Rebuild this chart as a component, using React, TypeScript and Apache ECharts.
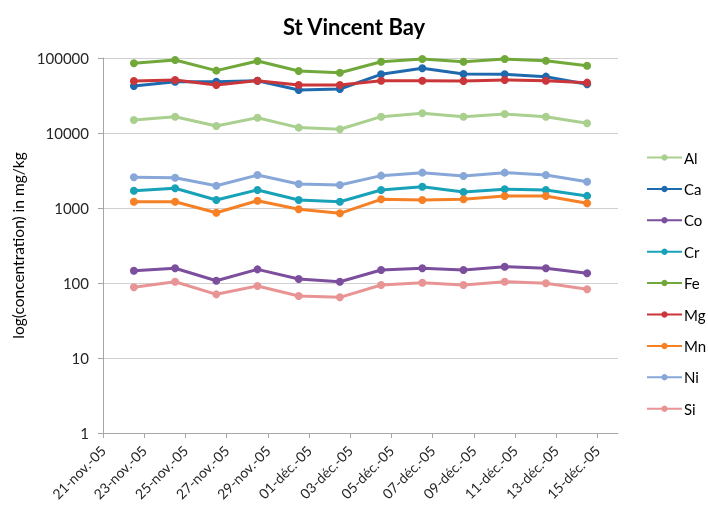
import React, { useEffect, useRef } from "react";
import * as echarts from "echarts";

const startDate = "2005-11-21";
const sampleDates = [
  "2005-11-22", "2005-11-24", "2005-11-26", "2005-11-28", "2005-11-30", "2005-12-02",
  "2005-12-04", "2005-12-06", "2005-12-08", "2005-12-10", "2005-12-12", "2005-12-14",
];
const tickLabels = [
  "21-nov.-05", "23-nov.-05", "25-nov.-05", "27-nov.-05", "29-nov.-05", "01-déc.-05",
  "03-déc.-05", "05-déc.-05", "07-déc.-05", "09-déc.-05", "11-déc.-05", "13-déc.-05", "15-déc.-05",
];
const seriesNames = ["Al", "Ca", "Co", "Cr", "Fe", "Mg", "Mn", "Ni", "Si"];
const seriesColors = ["#A9D08E", "#1F6AAE", "#7B4F9D", "#17A2B8", "#70A83A", "#CA3639", "#F58025", "#87A7D8", "#E89494"];

const Al = [14900, 16500, 12400, 16000, 11800, 11200, 16500, 18300, 16500, 17900, 16500, 13500];
const Ca = [42300, 48300, 48300, 49800, 37400, 38600, 60600, 72900, 61200, 60600, 56400, 44600];
const Co = [146, 157, 107, 152, 113, 104, 149, 157, 149, 165, 157, 135];
const Cr = [1700, 1830, 1280, 1740, 1280, 1210, 1740, 1920, 1630, 1780, 1740, 1450];
const Fe = [84900, 94000, 67800, 91200, 67100, 63700, 89300, 97000, 89300, 97000, 92000, 78900];
const Mg = [49400, 50900, 43700, 49800, 43700, 43700, 49800, 49800, 49400, 50900, 49800, 46900];
const Mn = [1210, 1210, 865, 1250, 961, 849, 1306, 1279, 1306, 1445, 1445, 1155];
const Ni = [2570, 2535, 1980, 2750, 2090, 2030, 2700, 2960, 2670, 2960, 2750, 2240];
const Si = [87.7, 104, 70.6, 91.2, 67.1, 64.4, 94, 101, 94, 104, 99, 82.4];

const seriesValues = [Al, Ca, Co, Cr, Fe, Mg, Mn, Ni, Si];

const DAY = 86400000;
const FONT = "Lato, 'Open Sans', sans-serif";

export default function App() {
  const ref = useRef<HTMLDivElement>(null);
  useEffect(() => {
    if (!ref.current) return;
    const chart = echarts.init(ref.current, null, { renderer: "svg" });
    const t0 = Date.parse(startDate);
    const xs = sampleDates.map((d) => (Date.parse(d) - t0) / DAY + 0.5);
    const tickVals = tickLabels.map((_, i) => i * 2);
    chart.setOption({
      animation: false,
      textStyle: { fontFamily: FONT },
      title: {
        text: "St Vincent Bay",
        left: "center",
        top: 10,
        textStyle: { fontFamily: FONT, fontSize: 22, fontWeight: "bold", color: "#000" },
      },
      legend: {
        orient: "vertical",
        left: 646,
        top: 150,
        itemWidth: 35,
        itemHeight: 8,
        itemGap: 16.4,
        padding: 0,
        textStyle: { fontFamily: FONT, fontSize: 15, color: "#000", padding: [0, 0, 0, -3] },
        data: seriesNames,
      },
      grid: { left: 103, right: 90, top: 58, bottom: 75 },
      xAxis: {
        type: "value",
        min: 0,
        max: 25,
        interval: 2,
        splitLine: { show: false },
        axisLine: { show: true, lineStyle: { color: "#A6A6A6", width: 1 } },
        axisTick: { show: true, length: 5, customValues: tickVals, lineStyle: { color: "#A6A6A6" } },
        axisLabel: {
          customValues: tickVals,
          rotate: 45,
          margin: 15,
          fontFamily: FONT,
          fontSize: 14,
          color: "#262626",
          formatter: (v: number) => (v % 2 === 0 && tickLabels[v / 2]) || "",
        },
      },
      yAxis: {
        type: "log",
        logBase: 10,
        min: 1,
        max: 100000,
        name: "log(concentration) in mg/kg",
        nameLocation: "middle",
        nameGap: 72,
        nameTextStyle: { fontFamily: FONT, fontSize: 15.5, color: "#000" },
        axisLine: { show: true, lineStyle: { color: "#A6A6A6", width: 1 } },
        axisTick: { show: true, length: 5, lineStyle: { color: "#A6A6A6" } },
        splitLine: { show: true, lineStyle: { color: "#D0D0D0", width: 1 } },
        axisLabel: {
          fontFamily: FONT,
          fontSize: 15,
          color: "#262626",
          margin: 14,
          formatter: (v: number) => String(Math.round(v)),
        },
      },
      series: seriesNames.map((name, i) => ({
        name,
        type: "line",
        data: seriesValues[i].map((v, j) => [xs[j], v]),
        symbol: "circle",
        symbolSize: 8,
        lineStyle: { width: 3, color: seriesColors[i] },
        itemStyle: { color: seriesColors[i] },
      })),
    });
    return () => chart.dispose();
  }, []);
  return <div ref={ref} style={{ position: "fixed", left: 0, top: 0, width: 708, height: 508 }} />;
}
